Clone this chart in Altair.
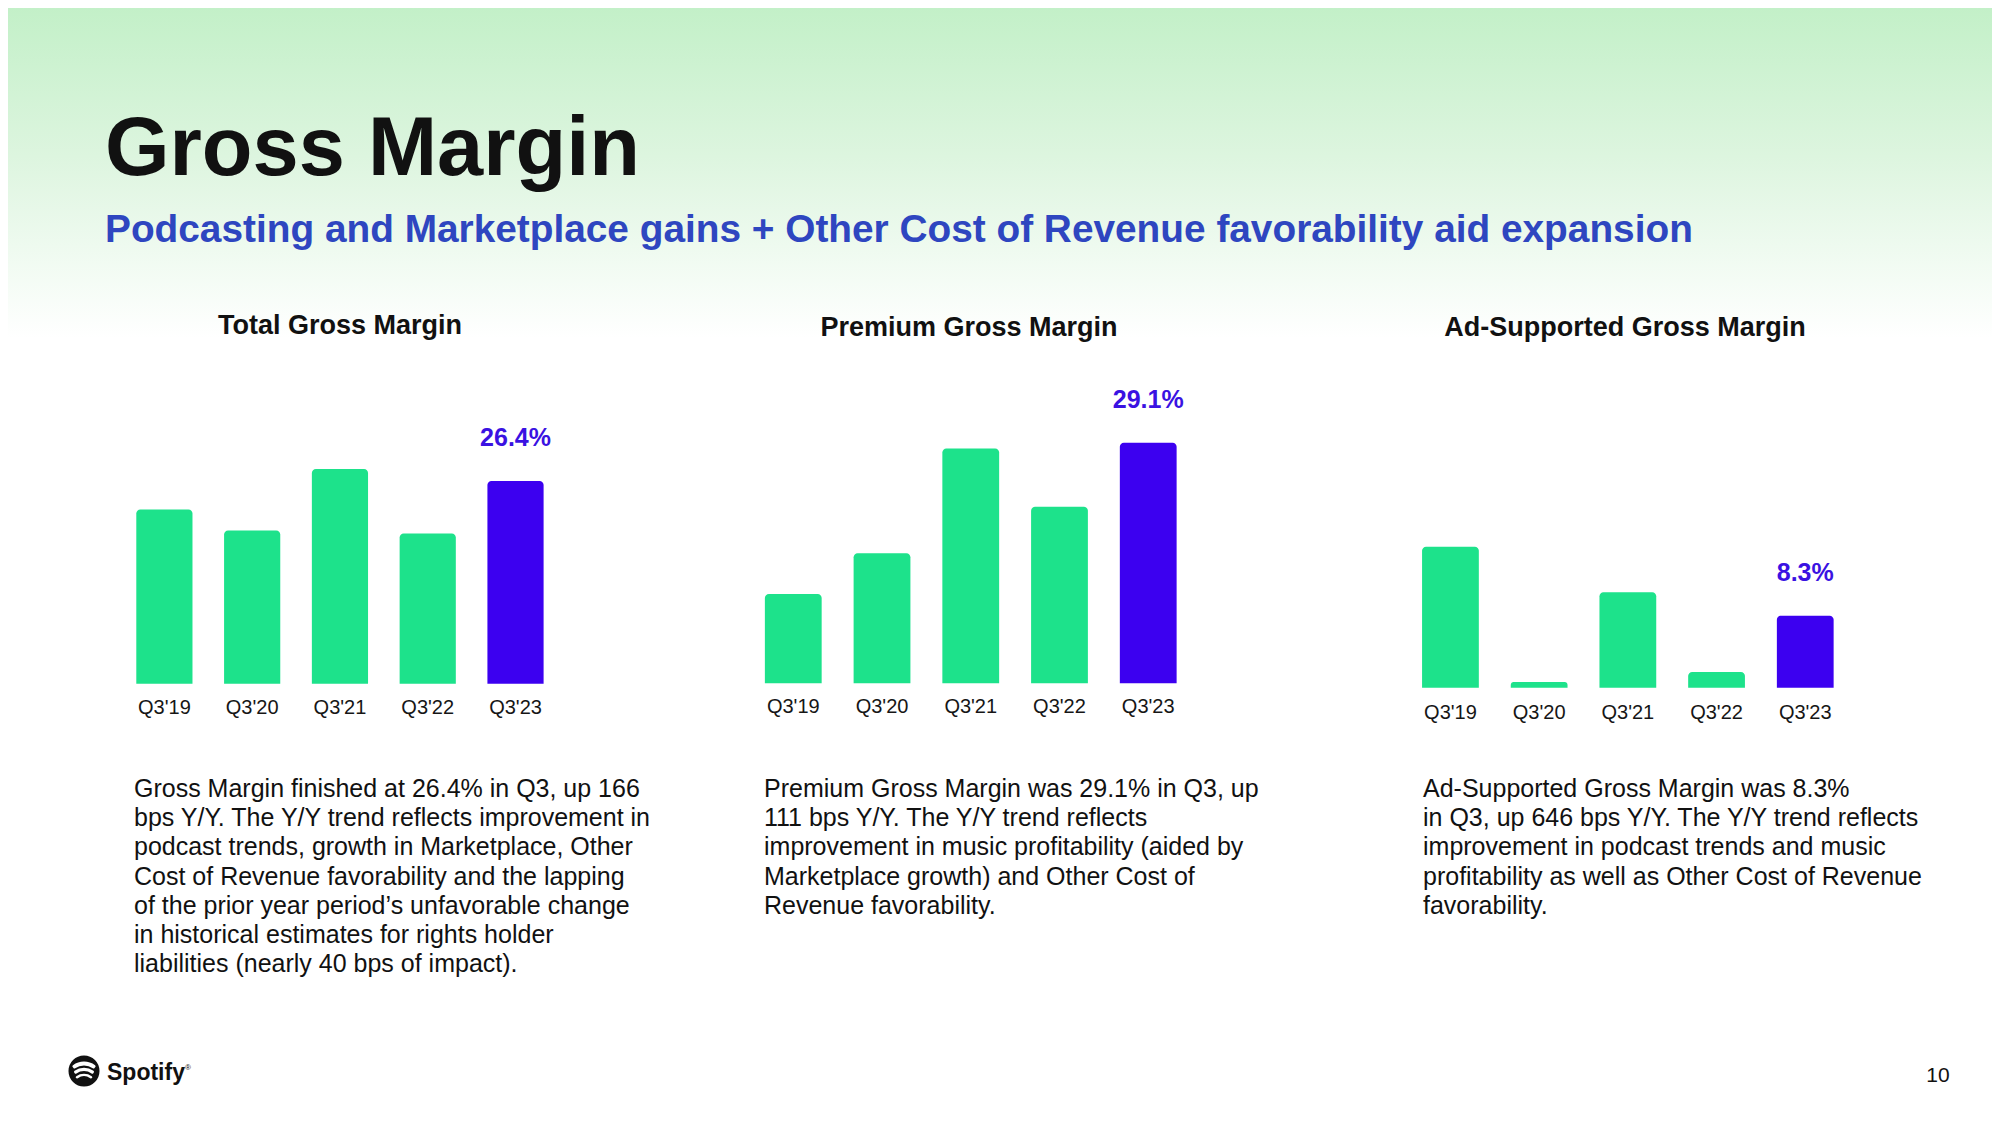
import math
import altair as alt
import pandas as pd

# ---------------- data ----------------
QUARTERS = ["Q3'19", "Q3'20", "Q3'21", "Q3'22", "Q3'23"]
TOTAL_GM = [25.45, 24.75, 26.8, 24.65, 26.4]
PREMIUM_GM = [26.5, 27.2, 29.0, 28.0, 29.1]
AD_GM = [16.25, 0.65, 11.0, 1.8, 8.3]
CURRENT = "Q3'23"

TITLE = "Gross Margin"
SUBTITLE = "Podcasting and Marketplace gains + Other Cost of Revenue favorability aid expansion"
PANEL_TITLES = ["Total Gross Margin", "Premium Gross Margin", "Ad-Supported Gross Margin"]
PARA_TOTAL = [
    "Gross Margin finished at 26.4% in Q3, up 166",
    "bps Y/Y. The Y/Y trend reflects improvement in",
    "podcast trends, growth in Marketplace, Other",
    "Cost of Revenue favorability and the lapping",
    "of the prior year period\u2019s unfavorable change",
    "in historical estimates for rights holder",
    "liabilities (nearly 40 bps of impact).",
]
PARA_PREMIUM = [
    "Premium Gross Margin was 29.1% in Q3, up",
    "111 bps Y/Y. The Y/Y trend reflects",
    "improvement in music profitability (aided by",
    "Marketplace growth) and Other Cost of",
    "Revenue favorability.",
]
PARA_AD = [
    "Ad-Supported Gross Margin was 8.3%",
    "in Q3, up 646 bps Y/Y. The Y/Y trend reflects",
    "improvement in podcast trends and music",
    "profitability as well as Other Cost of Revenue",
    "favorability.",
]
BRAND = "Spotify"
PAGE = "10"

# ---------------- style / layout ----------------
W, H = 1984, 1109
FONT = "Liberation Sans"
GREEN = "#1DE28B"
PURPLE = "#3C00F0"
LABEL_PURPLE = "#3A12E2"
BLUE = "#2E46C0"
INK = "#111111"

ONE = pd.DataFrame({"k": [0]})


def fixed_text(text, x, y, size, weight="normal", color=INK, align="left",
               baseline="alphabetic", line_height=None):
    kw = dict(text=text, font=FONT, fontSize=size, fontWeight=weight, color=color,
              align=align, baseline=baseline)
    if line_height is not None:
        kw["lineHeight"] = line_height
    return alt.Chart(ONE).mark_text(**kw).encode(x=alt.value(x), y=alt.value(y))


def panel(values, title, x_range, y_domain, y_range, tick_y, title_x, title_y):
    df = pd.DataFrame({"q": QUARTERS, "v": values})
    base = alt.Chart(df)
    xs = alt.X("q:N", sort=QUARTERS, axis=None,
               scale=alt.Scale(range=x_range, paddingInner=0.36, paddingOuter=0.18))
    ys = alt.Y("v:Q", axis=None,
               scale=alt.Scale(domain=y_domain, range=y_range, zero=False, nice=False))
    is_cur = alt.FieldEqualPredicate(field="q", equal=CURRENT)
    bars = base.mark_bar(cornerRadiusTopLeft=4, cornerRadiusTopRight=4).encode(
        x=xs, y=ys, y2=alt.datum(y_domain[0]),
        color=alt.condition(is_cur, alt.value(PURPLE), alt.value(GREEN)),
    )
    ticks = base.mark_text(font=FONT, fontSize=20, color="#161616", baseline="middle").encode(
        x=xs, y=alt.value(tick_y), text="q:N"
    )
    label = base.transform_filter(is_cur).transform_calculate(
        lbl="format(datum.v, '.1f') + '%'"
    ).mark_text(font=FONT, fontSize=25, fontWeight="bold", color=LABEL_PURPLE,
                baseline="middle", dy=-43).encode(x=xs, y=ys, text="lbl:N")
    head = fixed_text(title, title_x, title_y, 27, weight="bold", align="center")
    return alt.layer(bars, ticks, label, head)


# background gradient band at the top
bg = alt.Chart(ONE).mark_rect(
    fill=alt.Gradient(
        gradient="linear",
        stops=[
            alt.GradientStop(color="#C3F0C8", offset=0),
            alt.GradientStop(color="#DDF5DF", offset=0.45),
            alt.GradientStop(color="#EEFAEF", offset=0.72),
            alt.GradientStop(color="#FFFFFF", offset=1),
        ],
        x1=0, x2=0, y1=0, y2=1,
    )
).encode(x=alt.value(0), x2=alt.value(W), y=alt.value(0), y2=alt.value(330))

title = fixed_text(TITLE, 97, 167, 83, weight="bold", color=INK)
subtitle = fixed_text(SUBTITLE, 97, 234, 38.8, weight="bold", color=BLUE)

p1 = panel(TOTAL_GM, PANEL_TITLES[0], [112.5, 551.4], [19.64, 30], [675.7, 364.9], 700, 332, 326)
p2 = panel(PREMIUM_GM, PANEL_TITLES[1], [740.9, 1184.6], [24.965, 30], [675.3, 382.4], 699, 961, 328)
p3 = panel(AD_GM, PANEL_TITLES[2], [1398.1, 1841.6], [0, 20], [679.7, 506.2], 705, 1617, 328)

para1 = fixed_text(PARA_TOTAL, 126, 789, 25, line_height=29.2)
para2 = fixed_text(PARA_PREMIUM, 756, 789, 25, line_height=29.2)
para3 = fixed_text(PARA_AD, 1415, 789, 25, line_height=29.2)

# Spotify logo
LOGO_X, LOGO_Y = 76, 1063
circle = alt.Chart(ONE).mark_circle(color="#111111", opacity=1, size=math.pi * 17.5 ** 2).encode(
    x=alt.value(LOGO_X), y=alt.value(LOGO_Y)
)
arc_specs = [  # (centre dy, outer radius, inner radius, half angle)
    (9.5, 18.9, 15.1, 0.70),
    (13.0, 16.2, 13.0, 0.71),
    (16.0, 13.3, 10.7, 0.73),
]
arcs = [
    alt.Chart(ONE).mark_arc(color="white", cornerRadius=1.3).encode(
        x=alt.value(LOGO_X), y=alt.value(LOGO_Y + dy),
        theta=alt.value(2 * math.pi - a), theta2=alt.value(2 * math.pi + a),
        radius=alt.value(ro), radius2=alt.value(ri),
    )
    for dy, ro, ri, a in arc_specs
]
brand = fixed_text(BRAND, 99, 1065, 23, weight="bold", color="#111111", baseline="middle")
reg = fixed_text("\u00ae", 177, 1060, 8, color="#111111", baseline="middle")
page = fixed_text(PAGE, 1930, 1068, 21, color="#111111", align="center", baseline="middle")

chart = alt.layer(
    bg, title, subtitle, p1, p2, p3, para1, para2, para3, circle, *arcs, brand, reg, page
).resolve_scale(
    x="independent", y="independent"
).properties(
    width=W, height=H, padding=0, autosize="none", background="white"
).configure_view(stroke=None)

chart.save("out.html", embed_options={"renderer": "svg", "actions": False})
